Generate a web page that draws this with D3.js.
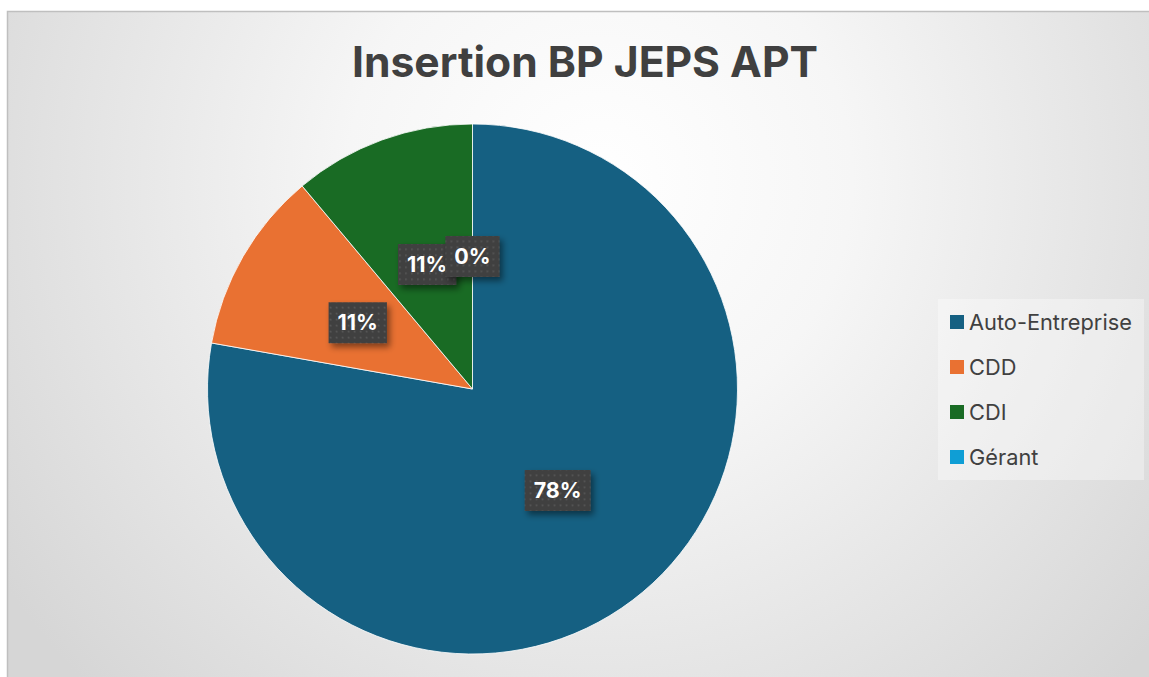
<!DOCTYPE html>
<html><head><meta charset="utf-8">
<script src="https://cdn.jsdelivr.net/npm/d3@7"></script>
<style>html,body{margin:0;padding:0;background:#fff;overflow:hidden}</style>
</head><body>
<svg id="c" width="1149" height="677"></svg>
<script>
const categories = ["Auto-Entreprise", "CDD", "CDI", "Gérant"];
const values = [7, 1, 1, 0];
const colors = ["#156082", "#E97132", "#196B24", "#0F9ED5"];
const title = "Insertion BP JEPS APT";

const svg = d3.select("#c");
const W = 1149, H = 677;
const defs = svg.append("defs");
const FF = "Inter, 'Open Sans', sans-serif";

const bg = defs.append("radialGradient").attr("id","bg")
  .attr("gradientUnits","userSpaceOnUse").attr("cx",600).attr("cy",180).attr("r",720);
bg.append("stop").attr("offset","0").attr("stop-color","#ffffff");
bg.append("stop").attr("offset","0.35").attr("stop-color","#f6f6f6");
bg.append("stop").attr("offset","1").attr("stop-color","#d6d6d6");

const pat = defs.append("pattern").attr("id","dots").attr("patternUnits","userSpaceOnUse")
  .attr("width",6).attr("height",6);
pat.append("rect").attr("width",6).attr("height",6).attr("fill","#404040");
pat.append("rect").attr("x",2).attr("y",2).attr("width",1.6).attr("height",1.6).attr("fill","#5a5a5a");

const sh = defs.append("filter").attr("id","shadow").attr("x","-30%").attr("y","-30%").attr("width","170%").attr("height","170%");
sh.append("feDropShadow").attr("dx",3).attr("dy",4).attr("stdDeviation",3).attr("flood-color","#000").attr("flood-opacity",0.45);

svg.append("rect").attr("width",W).attr("height",H).attr("fill","#ffffff");
svg.append("rect").attr("x",7.5).attr("y",11.5).attr("width",W).attr("height",H)
  .attr("fill","url(#bg)").attr("stroke","#bfbfbf").attr("stroke-width",1.5);

// title
const t = svg.append("text").attr("x",585).attr("y",77).attr("text-anchor","middle")
  .attr("font-family",FF).attr("font-weight",700)
  .attr("font-size",44).attr("fill","#404040").text(title);
const tw = t.node().getComputedTextLength();
t.attr("font-size", 44*466/tw);

// pie
const cx = 472.5, cy = 389, r = 265;
const data = categories.map((c,i)=>({cat:c, value:values[i], color:colors[i]}));
const pie = d3.pie().value(d=>d.value).sort(null);
const arcs = pie(data);
const arc = d3.arc().innerRadius(0).outerRadius(r);
const g = svg.append("g").attr("transform",`translate(${cx},${cy})`);
g.selectAll("path").data(arcs).enter().append("path")
  .attr("d",arc).attr("fill",d=>d.data.color)
  .attr("stroke","#ffffff").attr("stroke-width",d=>d.value>0?1:0).attr("stroke-opacity",0.8);

// label font calibrated so "78%" is ~48px wide
const probe = svg.append("text").attr("font-family",FF).attr("font-weight",700).attr("font-size",23).text("78%");
const lfs = 23*48/probe.node().getComputedTextLength();
probe.remove();

const total = d3.sum(values);
const labelArc = d3.arc().innerRadius(r*0.5).outerRadius(r*0.5);
const lg = g.selectAll("g.lab").data(arcs).enter().append("g").attr("class","lab")
  .attr("transform",d=>{const [x,y]=labelArc.centroid(d);return `translate(${x},${y})`;});
lg.each(function(d){
  const sel = d3.select(this);
  const txt = Math.round(d.value/total*100)+"%";
  const tmp = sel.append("text").attr("font-family",FF)
    .attr("font-weight",700).attr("font-size",lfs).attr("fill","#fff")
    .attr("text-anchor","middle").attr("dy","0.36em").text(txt);
  const w = tmp.node().getComputedTextLength();
  const bw = w + 18, bh = 41;
  sel.insert("rect","text").attr("x",-bw/2).attr("y",-bh/2).attr("width",bw).attr("height",bh)
    .attr("fill","url(#dots)").attr("filter","url(#shadow)");
});

// legend
const probe2 = svg.append("text").attr("font-family",FF).attr("font-size",20).text("Auto-Entreprise");
const gfs = 20*163/probe2.node().getComputedTextLength();
probe2.remove();
const leg = svg.append("g");
leg.append("rect").attr("x",938).attr("y",299).attr("width",206).attr("height",181)
  .attr("fill","#ffffff").attr("fill-opacity",0.35);
const li = leg.selectAll("g.li").data(data).enter().append("g").attr("class","li")
  .attr("transform",(d,i)=>`translate(950,${322+i*45})`);
li.append("rect").attr("x",0).attr("y",-7).attr("width",14).attr("height",14).attr("fill",d=>d.color);
li.append("text").attr("x",19).attr("dy","0.35em")
  .attr("font-family",FF).attr("font-size",gfs).attr("fill","#404040")
  .text(d=>d.cat);
</script>
</body></html>
